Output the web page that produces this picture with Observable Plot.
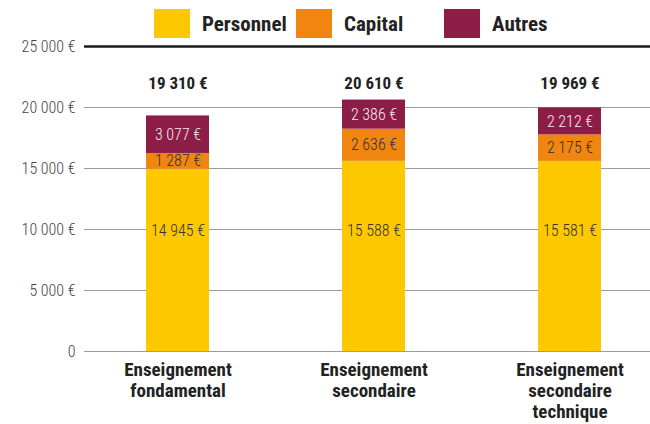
<!DOCTYPE html>
<html>
<head>
<meta charset="utf-8">
<script src="https://cdn.jsdelivr.net/npm/d3@7"></script>
<script src="https://cdn.jsdelivr.net/npm/@observablehq/plot@0.6"></script>
<style>
  html, body { margin: 0; padding: 0; background: #fff; }
  #wrap { position: relative; width: 650px; height: 424px; }
  #legend { position: absolute; top: 9px; left: 154px; display: flex; align-items: center; }
  .item { display: flex; align-items: center; font-weight: 700; font-size: 21px; color: #222; }
  .sw { width: 36px; height: 29px; margin-right: 12px; }
</style>
</head>
<body>
<div id="wrap"><div id="legend"></div><div id="chart"></div></div>
<script>
const categories = ["Enseignement\nfondamental", "Enseignement\nsecondaire", "Enseignement\nsecondaire\ntechnique"];
const series = ["Personnel", "Capital", "Autres"];
const personnel = [14945, 15588, 15581];
const capital = [1287, 2636, 2175];
const autres = [3077, 2386, 2212];
const totals = [19310, 20610, 19969];
const yTicks = [0, 5000, 10000, 15000, 20000, 25000];
const colors = ["#FDC800", "#F0850F", "#8B1D47"];

const FONT = '"Roboto Condensed", "Liberation Sans Narrow", "DejaVu Sans Condensed", Roboto, sans-serif';
document.getElementById("wrap").style.fontFamily = FONT;

const loc = d3.formatLocale({decimal: ",", thousands: " ", grouping: [3], currency: ["", " €"]});
const num = loc.format(",");
const eur = v => num(v) + " €";

const rows = categories.flatMap((c, i) => [
  {cat: c, type: "Personnel", value: personnel[i]},
  {cat: c, type: "Capital", value: capital[i]},
  {cat: c, type: "Autres", value: autres[i]}
]);

const legend = document.getElementById("legend");
const itemWidths = [142, 148, null];
series.forEach((s, i) => {
  const it = document.createElement("div");
  it.className = "item";
  if (itemWidths[i]) it.style.width = itemWidths[i] + "px";
  const sw = document.createElement("div");
  sw.className = "sw";
  sw.style.background = colors[i];
  const t = document.createElement("span");
  t.textContent = s;
  it.append(sw, t);
  legend.append(it);
});

const chart = Plot.plot({
  width: 650,
  height: 424,
  marginLeft: 84,
  marginRight: 0,
  marginTop: 46,
  marginBottom: 73,
  style: {fontFamily: FONT, background: "transparent", overflow: "visible"},
  x: {domain: categories, paddingInner: 0.679, paddingOuter: 0.281, align: 0.555, label: null},
  y: {domain: [0, 25000], label: null},
  color: {domain: series, range: colors},
  marks: [
    Plot.ruleY(yTicks.filter(d => d < 25000), {stroke: "#9c9c9c", strokeWidth: 1}),
    Plot.ruleY([25000], {stroke: "#1a1a1a", strokeWidth: 2.5}),
    Plot.barY(rows, {x: "cat", y: "value", fill: "type"}),
    Plot.text(rows, Plot.stackY({x: "cat", y: "value", z: "type",
      text: d => d.type === "Capital" ? eur(d.value) : null,
      fill: "#333", fontSize: 16, fontWeight: 300})),
    Plot.text(rows, Plot.stackY({x: "cat", y: "value", z: "type",
      text: d => d.type === "Autres" ? eur(d.value) : null,
      fill: "#f6e9ef", fontSize: 16, fontWeight: 300})),
    Plot.text(personnel, {x: (d, i) => categories[i], y: 9900, text: d => eur(d),
      fill: "#333", fontSize: 16, fontWeight: 300}),
    Plot.text(totals, {x: (d, i) => categories[i], y: 22000, text: d => eur(d),
      fill: "#222", fontSize: 17, fontWeight: 700}),
    Plot.axisY({ticks: yTicks, tickSize: 0, tickPadding: 9, label: null,
      tickFormat: d => d === 0 ? "0" : eur(d), fontSize: 16, fontWeight: 300, color: "#444"}),
    Plot.axisX({tickSize: 0, tickPadding: 10, label: null, fontSize: 19, fontWeight: 700,
      lineHeight: 1.1, color: "#222"})
  ]
});
document.getElementById("chart").append(chart);
</script>
</body>
</html>
